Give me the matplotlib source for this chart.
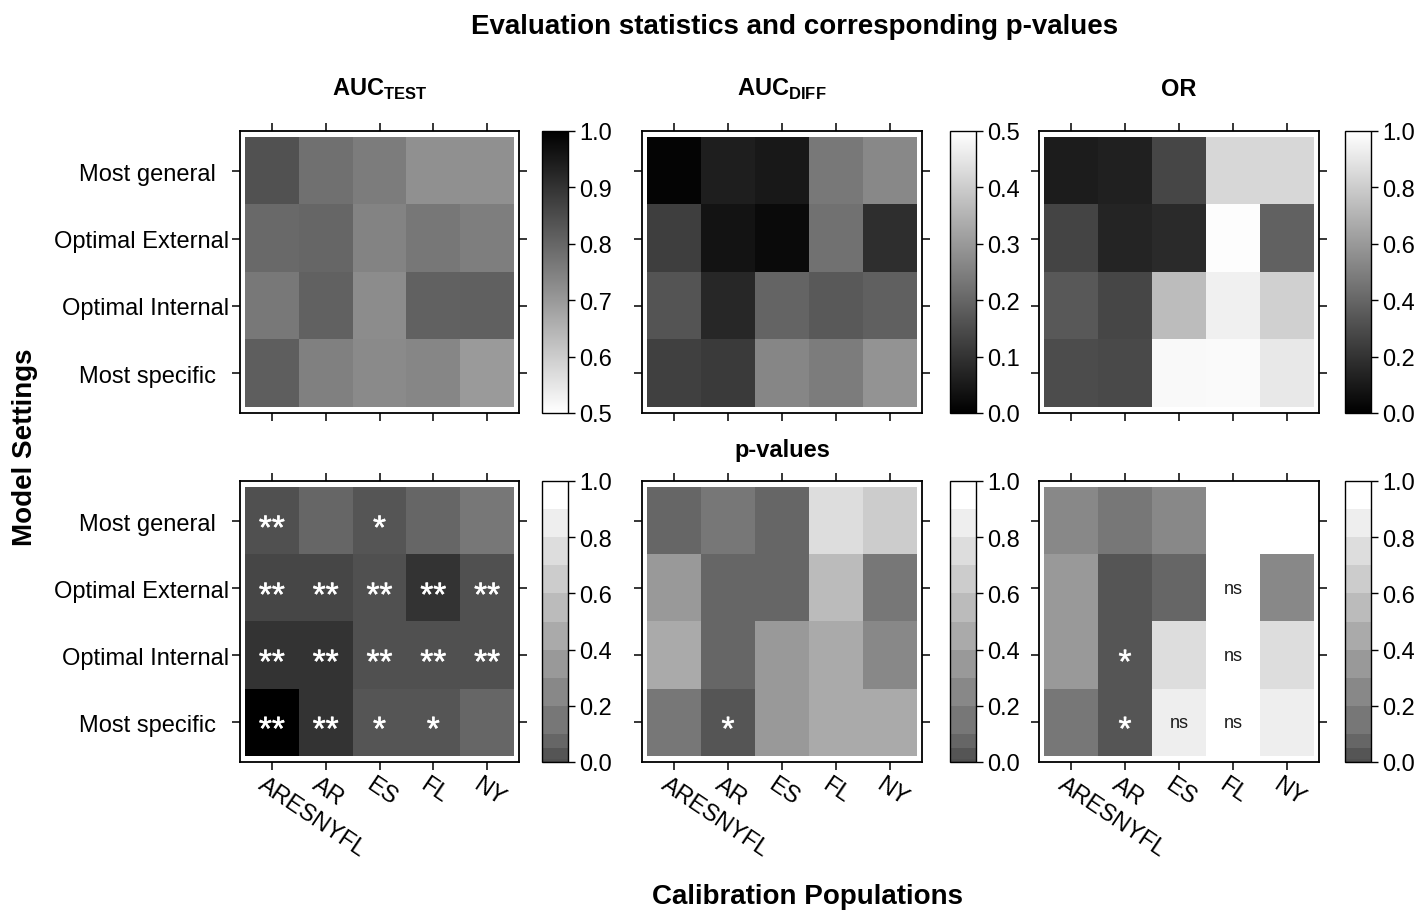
import numpy as np
import matplotlib
matplotlib.use("Agg")
import matplotlib.pyplot as plt
import matplotlib.transforms as mtransforms
import matplotlib.patheffects as pe
from matplotlib.colors import ListedColormap, BoundaryNorm, Normalize
from matplotlib.cm import ScalarMappable

plt.rcParams['font.family'] = ['Liberation Sans', 'DejaVu Sans']
plt.rcParams['mathtext.fontset'] = 'custom'
plt.rcParams['mathtext.rm'] = 'Liberation Sans'
plt.rcParams['mathtext.bf'] = 'Liberation Sans:bold'

# ---------------- data ----------------
populations = ["ARESNYFL", "AR", "ES", "FL", "NY"]
settings = ["Most general  ", "Optimal External", "Optimal Internal", "Most specific  "]

auc_test = [[0.839, 0.780, 0.757, 0.718, 0.718],
            [0.792, 0.800, 0.741, 0.767, 0.753],
            [0.765, 0.808, 0.725, 0.808, 0.812],
            [0.816, 0.749, 0.729, 0.737, 0.698]]

auc_diff = [[0.008, 0.059, 0.047, 0.235, 0.267],
            [0.122, 0.039, 0.020, 0.224, 0.090],
            [0.165, 0.078, 0.196, 0.176, 0.188],
            [0.125, 0.114, 0.263, 0.243, 0.290]]

odds_ratio = [[0.110, 0.125, 0.275, 0.840, 0.840],
              [0.267, 0.141, 0.165, 0.990, 0.384],
              [0.345, 0.275, 0.737, 0.941, 0.816],
              [0.298, 0.290, 0.973, 0.980, 0.910]]

p_auc_test = [[0.007, 0.07, 0.03, 0.07, 0.15],
              [0.003, 0.003, 0.008, 0.0005, 0.008],
              [0.0005, 0.0005, 0.008, 0.008, 0.008],
              [0.00005, 0.0005, 0.03, 0.03, 0.07]]

p_auc_diff = [[0.07, 0.15, 0.07, 0.75, 0.65],
              [0.35, 0.07, 0.07, 0.55, 0.15],
              [0.45, 0.07, 0.35, 0.45, 0.25],
              [0.15, 0.03, 0.35, 0.45, 0.45]]

p_or = [[0.25, 0.15, 0.25, np.nan, np.nan],
        [0.35, 0.03, 0.07, 0.95, 0.25],
        [0.35, 0.03, 0.75, 0.95, 0.75],
        [0.15, 0.03, 0.85, 0.95, 0.85]]

lab_auc_test = [["**", "", "*", "", ""],
                ["**", "**", "**", "**", "**"],
                ["**", "**", "**", "**", "**"],
                ["**", "**", "*", "*", ""]]
lab_auc_diff = [["", "", "", "", ""],
                ["", "", "", "", ""],
                ["", "", "", "", ""],
                ["", "*", "", "", ""]]
lab_or = [["", "", "", "", ""],
          ["", "", "", "ns", ""],
          ["", "*", "", "ns", ""],
          ["", "*", "ns", "ns", ""]]

p_breaks = [0, 1e-4, 1e-3, 5e-3, 0.01, 0.05, 0.1, 0.2, 0.3, 0.4, 0.5, 0.6, 0.7, 0.8, 0.9, 1.0]
p_colors = ['#000000', '#333333', '#464646', '#505050', '#555555', '#666666', '#777777',
            '#888888', '#999999', '#aaaaaa', '#bbbbbb', '#cccccc', '#dddddd', '#eeeeee', '#ffffff']

top_titles = [r'$\mathbf{AUC}_{\mathbf{TEST}}$', r'$\mathbf{AUC}_{\mathbf{DIFF}}$', 'OR']

# ---------------- figure ----------------
W, H = 1419, 912
fig = plt.figure(figsize=(W / 100, H / 100), dpi=100)

def fr(x0, y0, w, h):
    return [x0 / W, 1 - (y0 + h) / H, w / W, h / H]

col_x = [240, 642, 1039]
col_w = [279, 280, 280]
row_y = [132, 482]
row_h = [282, 281]
cb_x = [542, 950, 1345]
cb_w = 26

p_cmap = ListedColormap(p_colors)
p_norm = BoundaryNorm(p_breaks, p_cmap.N)

top_specs = [
    (auc_test, plt.get_cmap('gray_r'), Normalize(0.5, 1.0), [0.5, 0.6, 0.7, 0.8, 0.9, 1.0]),
    (auc_diff, plt.get_cmap('gray'), Normalize(0.0, 0.5), [0.0, 0.1, 0.2, 0.3, 0.4, 0.5]),
    (odds_ratio, plt.get_cmap('gray'), Normalize(0.0, 1.0), [0.0, 0.2, 0.4, 0.6, 0.8, 1.0]),
]
bot_specs = [(p_auc_test, lab_auc_test), (p_auc_diff, lab_auc_diff), (p_or, lab_or)]

label_fs = 17
xs = np.arange(1, len(populations) + 1)
ys = np.arange(1, len(settings) + 1)
xlab_shift = mtransforms.ScaledTranslation(-5 / 100, 0, fig.dpi_scale_trans)


def style_axes(ax, show_x, show_y):
    ax.set_xlim(0.407, 5.593)
    ax.set_ylim(4.59, 0.40)
    ax.set_xticks(xs)
    ax.set_yticks(ys)
    ax.tick_params(which='both', direction='out', length=6, width=1.1,
                   top=True, right=True, bottom=True, left=True,
                   labeltop=False, labelright=False,
                   labelbottom=show_x, labelleft=show_y, labelsize=label_fs, pad=2)
    if show_y:
        ax.set_yticklabels(settings)
    if show_x:
        ax.set_xticklabels(populations, rotation=-34, ha='left', va='top',
                           rotation_mode='anchor')
        for t in ax.get_xticklabels():
            t.set_transform(t.get_transform() + xlab_shift)
    for s in ax.spines.values():
        s.set_linewidth(1.3)


def add_cbar(cax, cmap, norm, ticks, proportional=False):
    sm = ScalarMappable(norm=norm, cmap=cmap)
    kw = dict(spacing='proportional') if proportional else {}
    cb = fig.colorbar(sm, cax=cax, ticks=ticks, **kw)
    cb.ax.minorticks_off()
    cb.ax.set_yticks(ticks)
    cb.ax.set_yticklabels(['%.1f' % t for t in ticks])
    cb.ax.tick_params(length=5, width=1, labelsize=label_fs, pad=3)
    cb.outline.set_linewidth(1)
    return cb


for j in range(3):
    data, cmap, norm, ticks = top_specs[j]
    ax = fig.add_axes(fr(col_x[j], row_y[0], col_w[j], row_h[0]))
    ax.imshow(np.array(data, float), cmap=cmap, norm=norm,
              extent=(0.5, 5.5, 4.5, 0.5), aspect='auto', interpolation='nearest')
    style_axes(ax, False, j == 0)
    ax.set_title(top_titles[j], fontsize=17, fontweight='bold', pad=26)
    cax = fig.add_axes(fr(cb_x[j], row_y[0], cb_w, row_h[0]))
    add_cbar(cax, cmap, norm, ticks)

star_fx = [pe.withStroke(linewidth=0.4, foreground='white')]
for j in range(3):
    data, labels = bot_specs[j]
    ax = fig.add_axes(fr(col_x[j], row_y[1], col_w[j], row_h[1]))
    ax.imshow(np.array(data, float), cmap=p_cmap, norm=p_norm,
              extent=(0.5, 5.5, 4.5, 0.5), aspect='auto', interpolation='nearest')
    style_axes(ax, True, j == 0)
    if j == 1:
        ax.set_title('p-values', fontsize=17, fontweight='bold', pad=18)
    for r in range(len(settings)):
        for c in range(len(populations)):
            lab = labels[r][c]
            if not lab:
                continue
            if lab == 'ns':
                fs = 13
                ax.annotate(lab, (xs[c], ys[r]), xytext=(0, -0.26 * fs),
                            textcoords='offset points', ha='center', va='baseline',
                            fontsize=fs, color='#1a1a1a')
            else:
                fs = 24
                ax.annotate(lab, (xs[c], ys[r]), xytext=(0, -0.52 * fs),
                            textcoords='offset points', ha='center', va='baseline',
                            fontsize=fs, color='white', path_effects=star_fx)
    cax = fig.add_axes(fr(cb_x[j], row_y[1], cb_w, row_h[1]))
    add_cbar(cax, p_cmap, p_norm, [0.0, 0.2, 0.4, 0.6, 0.8, 1.0], proportional=True)

fig.text(795 / W, 1 - 27 / H, 'Evaluation statistics and corresponding p-values',
         ha='center', va='center', fontsize=20, fontweight='bold')
fig.text(25 / W, 1 - 447 / H, 'Model Settings', rotation=90,
         ha='center', va='center', fontsize=20, fontweight='bold')
fig.text(807 / W, 1 - 897 / H, 'Calibration Populations',
         ha='center', va='center', fontsize=20, fontweight='bold')

fig.savefig('out.png', dpi=100)
